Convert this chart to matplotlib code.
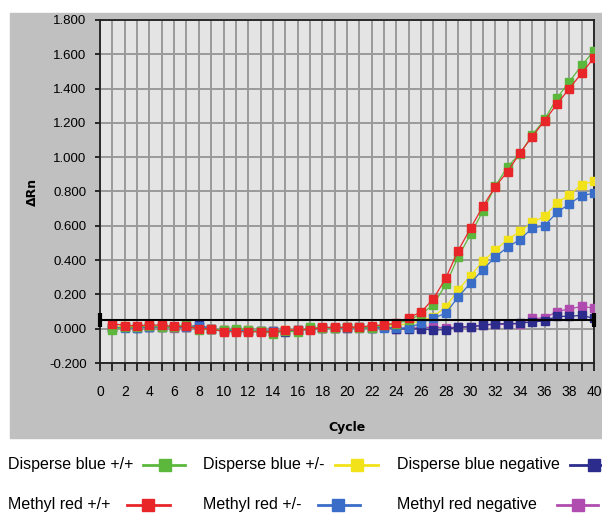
import numpy as np
import matplotlib
matplotlib.use("Agg")
import matplotlib.pyplot as plt
from matplotlib.lines import Line2D
from matplotlib.patches import Rectangle
from matplotlib.ticker import FuncFormatter

cycles = list(range(1, 41))

disperse_pp = [-0.005, 0.010, 0.008, 0.018, 0.008, 0.010, 0.025, -0.005, 0.000, -0.010,
               0.000, -0.005, -0.015, -0.028, -0.015, -0.018, 0.010, 0.003, 0.005, 0.010,
               0.005, 0.005, 0.020, 0.030, 0.050, 0.085, 0.140, 0.258, 0.418, 0.550,
               0.685, 0.830, 0.945, 1.020, 1.130, 1.220, 1.345, 1.440, 1.535, 1.620]
disperse_pm = [0.010, 0.015, 0.010, 0.015, 0.012, 0.008, 0.010, 0.005, 0.000, -0.010,
               -0.008, -0.010, -0.012, -0.015, -0.010, -0.005, 0.000, 0.005, 0.005, 0.008,
               0.010, 0.012, 0.015, 0.020, 0.030, 0.045, 0.070, 0.128, 0.225, 0.310,
               0.392, 0.458, 0.520, 0.567, 0.620, 0.655, 0.733, 0.780, 0.840, 0.860]
disperse_neg = [0.005, 0.010, 0.005, 0.012, 0.010, 0.008, 0.010, 0.020, 0.000, -0.010,
                -0.010, -0.012, -0.012, -0.015, -0.020, -0.010, -0.002, 0.003, 0.005, 0.005,
                0.008, 0.005, 0.010, 0.000, -0.002, 0.000, -0.008, -0.005, 0.010, 0.010,
                0.020, 0.030, 0.028, 0.032, 0.040, 0.045, 0.072, 0.072, 0.078, 0.060]
methyl_pp = [0.030, 0.018, 0.017, 0.022, 0.020, 0.013, 0.013, 0.000, 0.000, -0.018,
             -0.018, -0.018, -0.018, -0.018, -0.010, -0.005, -0.005, 0.008, 0.008, 0.008,
             0.010, 0.017, 0.022, 0.033, 0.065, 0.097, 0.175, 0.295, 0.455, 0.585,
             0.713, 0.828, 0.916, 1.024, 1.120, 1.213, 1.310, 1.400, 1.490, 1.580]
methyl_pm = [0.010, 0.005, 0.005, 0.010, 0.010, 0.008, 0.008, 0.015, 0.000, -0.012,
             -0.010, -0.012, -0.012, -0.015, -0.015, -0.008, 0.000, 0.005, 0.005, 0.008,
             0.008, 0.005, 0.005, 0.004, 0.004, 0.033, 0.062, 0.090, 0.185, 0.266,
             0.344, 0.418, 0.476, 0.519, 0.587, 0.600, 0.678, 0.727, 0.776, 0.790]
methyl_neg = [0.008, 0.012, 0.008, 0.010, 0.010, 0.005, 0.008, 0.010, 0.000, -0.008,
              -0.010, -0.010, -0.012, -0.012, -0.015, -0.010, -0.002, 0.003, 0.005, 0.005,
              0.005, 0.005, 0.008, 0.000, 0.005, 0.005, 0.010, 0.005, 0.010, 0.012,
              0.020, 0.025, 0.025, 0.030, 0.060, 0.062, 0.100, 0.115, 0.130, 0.120]

threshold = 0.052

labels = ["Disperse blue +/+", "Disperse blue +/-", "Disperse blue negative",
          "Methyl red +/+", "Methyl red +/-", "Methyl red negative"]
colors = ["#5cb83c", "#f2e21a", "#2c2c8c", "#e8262a", "#3a6dc8", "#b04cb0"]
values = [disperse_pp, disperse_pm, disperse_neg, methyl_pp, methyl_pm, methyl_neg]

W, H = 602, 515
fig = plt.figure(figsize=(W / 100, H / 100), dpi=100)
fig.patches.append(Rectangle((10 / W, 1 - 438 / H), 592 / W, 425 / H,
                             transform=fig.transFigure, color="#c0c0c0", zorder=-10))

ax = fig.add_axes([100 / W, 1 - 363 / H, 494 / W, 343 / H])
ax.set_facecolor("#e4e4e4")

# draw order: negatives first, red on top
for k, i in enumerate([5, 2, 1, 4, 0, 3]):
    ax.plot(cycles, values[i], color=colors[i], lw=0.9, marker="s", ms=5.5,
            mec=colors[i], mfc=colors[i], zorder=3 + k * 0.1)

ax.plot([0, 40], [threshold, threshold], color="black", lw=1.5, zorder=4,
        marker="|", ms=10, mew=3, clip_on=False)

ax.set_xlim(0, 40)
ax.set_ylim(-0.2, 1.8)
ax.set_xticks(range(0, 41))
ax.set_xticklabels([str(c) if c % 2 == 0 else "" for c in range(0, 41)])
ax.set_yticks(np.arange(-0.2, 1.81, 0.2))
ax.yaxis.set_major_formatter(FuncFormatter(lambda v, p: "%.3f" % v if abs(v) > 1e-9 else "0.000"))
ax.grid(True, color="#999999", lw=1.4)
ax.set_axisbelow(True)
ax.tick_params(axis="x", length=6, width=1.1, pad=10, labelsize=10)
ax.tick_params(axis="y", length=3.6, width=1.1, pad=6, labelsize=9.5)
for s in ax.spines.values():
    s.set_linewidth(1.3)
    s.set_color("#202020")
for t in ax.get_xticklabels() + ax.get_yticklabels():
    t.set_fontfamily("Liberation Sans")

fig.text(347 / W, 1 - 428 / H, "Cycle", ha="center", va="center",
         fontsize=9, fontweight="bold")
fig.text(32 / W, 1 - 192 / H, "ΔRn", ha="center", va="center", rotation=90,
         fontsize=9, fontweight="bold")

# legend below the chart: text then sample line
rows_y = [465, 505]
text_x = [8, 203, 397]
samples = [(143, 185, 165), (335, 378, 357), (570, 625, 594),
           (127, 170, 148), (318, 360, 338), (557, 598, 578)]
for i, lab in enumerate(labels):
    y = 1 - rows_y[i // 3] / H
    fig.text(text_x[i % 3] / W, y, lab, ha="left", va="center", fontsize=11.5,
             fontfamily="Liberation Sans")
    x0, x1, xm = samples[i]
    fig.add_artist(Line2D([x0 / W, x1 / W], [y, y], color=colors[i], lw=2,
                          transform=fig.transFigure))
    fig.add_artist(Line2D([xm / W], [y], color=colors[i], marker="s", ms=9,
                          transform=fig.transFigure))

fig.savefig("out.png", dpi=100)
